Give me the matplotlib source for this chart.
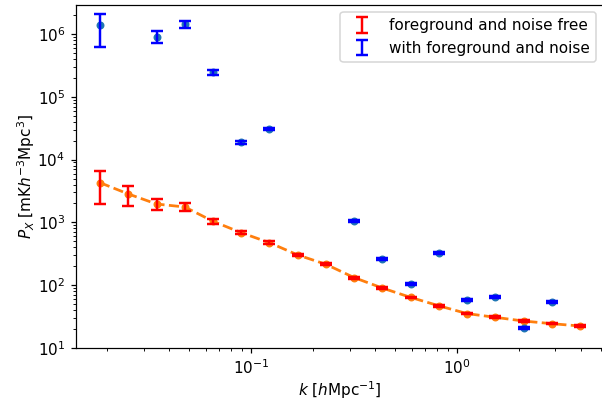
import numpy as np
import matplotlib
matplotlib.use('Agg')
from matplotlib import pyplot as plt

# k bins [h/Mpc]
k = [0.0184, 0.0253, 0.0347, 0.0475, 0.0652, 0.0894, 0.1225, 0.168, 0.2305,
     0.316, 0.4335, 0.594, 0.815, 1.117, 1.532, 2.10, 2.88, 3.95]

# foreground and noise free
p_clean = [4290, 2830, 1960, 1760, 1040, 685, 475, 303, 215,
           132, 90, 64, 47, 35.3, 30.8, 26.9, 24.4, 22.4]
err_clean = [2350, 1000, 400, 250, 85, 40, 22, 12, 8,
             5, 3, 2, 1.5, 1.1, 1.0, 0.8, 0.7, 0.6]

# with foreground and noise (nan = negative, not shown on log axis)
p_fg = [1.37e6, np.nan, 9.06e5, 1.44e6, 2.48e5, 1.88e4, 3.1e4, np.nan, np.nan,
        1050, 264, 103, 322, 58, 66, 20.8, 54, np.nan]
err_fg = [7.4e5, np.nan, 2.0e5, 2.0e5, 2.3e4, 900, 1400, np.nan, np.nan,
          40, 10, 4, 12, 2, 2.5, 0.8, 2, np.nan]

dpi = 110
fig = plt.figure(figsize=(602/dpi, 400/dpi), dpi=dpi)
ax = fig.add_axes([76/602, 52/400, 528/602, 343.5/400])

ax.plot(k, p_clean, 'o--', color='C1', markersize=4.2, lw=1.8)
ax.plot(k, p_fg, 'o', color='C0', markersize=4.2)

ax.errorbar(k, p_clean, yerr=err_clean, fmt='none', ecolor='r',
            elinewidth=1.6, capsize=4, capthick=1.6,
            label='foreground and noise free')
ax.errorbar(k, p_fg, yerr=err_fg, fmt='none', ecolor='b',
            elinewidth=1.6, capsize=4, capthick=1.6,
            label='with foreground and noise')

ax.set_xscale('log')
ax.set_yscale('log')
ax.set_ylim(10, 2.95e6)
ax.set_xlabel(r'$k\ [h\mathrm{Mpc}^{-1}]$', labelpad=1)
ax.set_ylabel(r'$P_X\ [\mathrm{mK}h^{-3}\mathrm{Mpc}^3]$', labelpad=0)
ax.legend(loc='upper right')

fig.savefig('out.png', dpi=dpi)
